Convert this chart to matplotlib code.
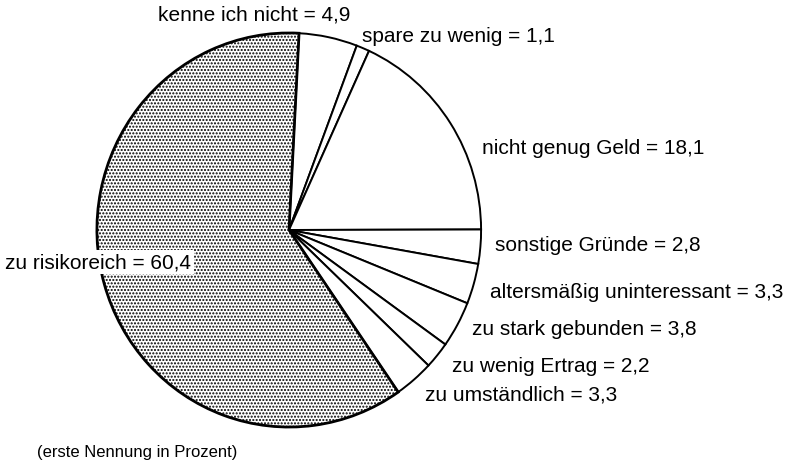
import matplotlib
matplotlib.use("Agg")
import matplotlib.pyplot as plt

labels = ["kenne ich nicht", "spare zu wenig", "nicht genug Geld", "sonstige Gründe",
          "altersmäßig uninteressant", "zu stark gebunden", "zu wenig Ertrag",
          "zu umständlich", "zu risikoreich"]
values = [4.9, 1.1, 18.1, 2.8, 3.3, 3.8, 2.2, 3.3, 60.4]
footnote = "(erste Nennung in Prozent)"

# label anchor points in pixels (left x, center y)
label_pos = [(158, 15), (362, 37), (482, 148), (495, 246), (490, 293),
             (472, 330), (452, 367), (425, 395), (5, 263)]

plt.rcParams['font.family'] = ['Liberation Sans', 'DejaVu Sans']
plt.rcParams['hatch.linewidth'] = 1.0
plt.rcParams['hatch.color'] = '#444444'

W, H = 786, 464
fig = plt.figure(figsize=(W / 100, H / 100), dpi=100)
# pie box: x 95..483, y 32..430 (pixels from top)
ax = fig.add_axes([95 / W, (H - 430) / H, 388 / W, 398 / H])

wedges, _ = ax.pie(values, startangle=87, counterclock=False,
                   colors=['white'] * len(values),
                   wedgeprops=dict(edgecolor='black', linewidth=1.4))
wedges[-1].set_hatch('.....')
wedges[-1].set_linewidth(2.0)
ax.set_aspect('auto')
ax.set_xlim(-1.01, 1.01)
ax.set_ylim(-1.01, 1.01)
ax.axis('off')

for i, (lab, v) in enumerate(zip(labels, values)):
    x, y = label_pos[i]
    txt = f"{lab} = {v:.1f}".replace('.', ',')
    kw = {}
    if i == len(labels) - 1:
        kw['bbox'] = dict(facecolor='white', edgecolor='none', pad=2)
    fig.text(x / W, 1 - y / H, txt, fontsize=15, ha='left', va='center', **kw)

fig.text(37 / W, 1 - 453 / H, footnote, fontsize=12, ha='left', va='center')

fig.savefig("out.png", dpi=100)
